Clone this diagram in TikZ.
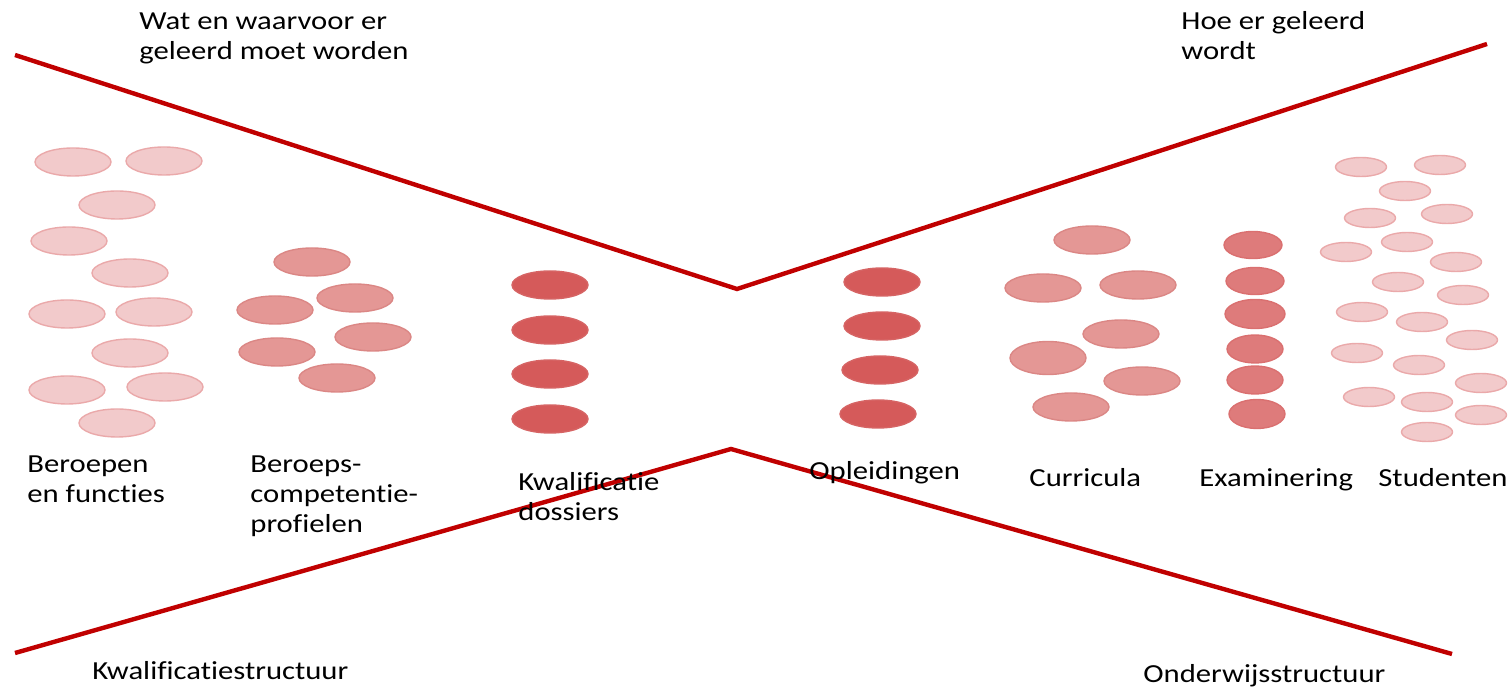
\documentclass[tikz,border=0pt]{standalone}
\usepackage{fontspec}
\setmainfont{Carlito}[FakeStretch=1.18, Ligatures=NoCommon]
\usetikzlibrary{shapes.geometric}
\definecolor{bow-red}{HTML}{C00000}
\definecolor{pale-fill}{HTML}{F2CACB}
\definecolor{pale-edge}{HTML}{EAA9AA}
\definecolor{mid-fill}{HTML}{E49795}
\definecolor{mid-edge}{HTML}{DB8785}
\definecolor{deep-fill}{HTML}{D55A5A}
\definecolor{deep-edge}{HTML}{D66464}
\definecolor{exam-fill}{HTML}{DE7B7B}
\definecolor{exam-edge}{HTML}{DA7070}
\tikzset{
    blob/.style = {ellipse, inner sep=0pt, line width=0.7pt},
    pale-blob/.style = {blob, draw=pale-edge, fill=pale-fill, minimum width=38pt, minimum height=14pt},
    mid-blob/.style = {blob, draw=mid-edge, fill=mid-fill, minimum width=38pt, minimum height=14pt},
    deep-blob/.style = {blob, draw=deep-edge, fill=deep-fill, minimum width=38pt, minimum height=14pt},
    exam-blob/.style = {blob, draw=exam-edge, fill=exam-fill, minimum width=29pt, minimum height=13.5pt},
    student-blob/.style = {blob, draw=pale-edge, fill=pale-fill, minimum width=25.5pt, minimum height=9.5pt},
    bow-line/.style = {draw=bow-red, line width=2.2pt},
    caption/.style = {anchor=base west, inner sep=0pt, align=left, font=\fontsize{13}{15}\selectfont},
}
\begin{document}
\begin{tikzpicture}[x=0.5pt, y=-0.5pt]
\useasboundingbox (0,0) rectangle (1510,688);
% the two red wedges
\coordinate (top-left) at (15,55);
\coordinate (top-mid) at (737,289);
\coordinate (top-right) at (1487,44);
\coordinate (bot-left) at (15,653);
\coordinate (bot-mid) at (731,449);
\coordinate (bot-right) at (1452,654);
\draw[bow-line] (top-left) -- (top-mid) -- (top-right);
\draw[bow-line] (bot-left) -- (bot-mid) -- (bot-right);

% beroepen en functies
\node[pale-blob] (job-1) at (73,162) {};
\node[pale-blob] (job-2) at (164,161) {};
\node[pale-blob] (job-3) at (117,205) {};
\node[pale-blob] (job-4) at (69,241) {};
\node[pale-blob] (job-5) at (130,273) {};
\node[pale-blob] (job-6) at (67,314) {};
\node[pale-blob] (job-7) at (154,312) {};
\node[pale-blob] (job-8) at (130,353) {};
\node[pale-blob] (job-9) at (67,390) {};
\node[pale-blob] (job-10) at (165,387) {};
\node[pale-blob] (job-11) at (117,423) {};

% beroepscompetentieprofielen
\node[mid-blob] (prof-1) at (312,262) {};
\node[mid-blob] (prof-2) at (355,298) {};
\node[mid-blob] (prof-3) at (275,310) {};
\node[mid-blob] (prof-4) at (373,337) {};
\node[mid-blob] (prof-5) at (277,352) {};
\node[mid-blob] (prof-6) at (337,378) {};

% kwalificatiedossiers
\node[deep-blob] (dos-1) at (550,285) {};
\node[deep-blob] (dos-2) at (550,330) {};
\node[deep-blob] (dos-3) at (550,374) {};
\node[deep-blob] (dos-4) at (550,419) {};

% opleidingen
\node[deep-blob] (opl-1) at (882,282) {};
\node[deep-blob] (opl-2) at (882,326) {};
\node[deep-blob] (opl-3) at (880,370) {};
\node[deep-blob] (opl-4) at (878,414) {};

% curricula
\node[mid-blob] (cur-1) at (1092,240) {};
\node[mid-blob] (cur-2) at (1043,288) {};
\node[mid-blob] (cur-3) at (1138,285) {};
\node[mid-blob] (cur-4) at (1121,334) {};
\node[mid-blob, minimum height=16.5pt] (cur-5) at (1048,358) {};
\node[mid-blob] (cur-6) at (1142,381) {};
\node[mid-blob] (cur-7) at (1071,407) {};

% examinering
\node[exam-blob] (exa-1) at (1253,245) {};
\node[exam-blob] (exa-2) at (1255,281) {};
\node[exam-blob, minimum width=30pt, minimum height=14.5pt] (exa-3) at (1255,314) {};
\node[exam-blob, minimum width=28pt, minimum height=14pt] (exa-4) at (1255,349) {};
\node[exam-blob, minimum width=28pt, minimum height=14pt] (exa-5) at (1255,380) {};
\node[exam-blob, minimum width=28pt, minimum height=14.5pt] (exa-6) at (1257,414) {};

% studenten
\node[student-blob] (stu-1) at (1361,167) {};
\node[student-blob] (stu-2) at (1440,165) {};
\node[student-blob] (stu-3) at (1405,191) {};
\node[student-blob] (stu-4) at (1370,218) {};
\node[student-blob] (stu-5) at (1447,214) {};
\node[student-blob] (stu-6) at (1407,242) {};
\node[student-blob] (stu-7) at (1346,252) {};
\node[student-blob] (stu-8) at (1456,262) {};
\node[student-blob] (stu-9) at (1398,282) {};
\node[student-blob] (stu-10) at (1463,295) {};
\node[student-blob] (stu-11) at (1362,312) {};
\node[student-blob] (stu-12) at (1422,322) {};
\node[student-blob] (stu-13) at (1472,340) {};
\node[student-blob] (stu-14) at (1357,353) {};
\node[student-blob] (stu-15) at (1419,365) {};
\node[student-blob] (stu-16) at (1481,383) {};
\node[student-blob] (stu-17) at (1369,397) {};
\node[student-blob] (stu-18) at (1427,402) {};
\node[student-blob] (stu-19) at (1481,415) {};
\node[student-blob] (stu-20) at (1427,432) {};

% captions (base = last line)
\node[caption] (what) at (139,60) {Wat en waarvoor er\\geleerd moet worden};
\node[caption] (how) at (1181,60) {Hoe er geleerd\\wordt};
\node[caption] (jobs) at (27,503) {Beroepen\\en functies};
\node[caption] (profiles) at (250,533) {Beroeps-\\competentie-\\profielen};
\node[caption] (dossiers) at (518,521) {Kwalificatie\\dossiers};
\node[caption] (courses) at (809,480) {Opleidingen};
\node[caption] (curricula) at (1029,487) {Curricula};
\node[caption] (exams) at (1199,487) {Examinering};
\node[caption] (students) at (1378,487) {Studenten};
\node[caption] (qual) at (92,680) {Kwalificatiestructuur};
\node[caption] (edu) at (1143,683) {Onderwijsstructuur};
\end{tikzpicture}
\end{document}
